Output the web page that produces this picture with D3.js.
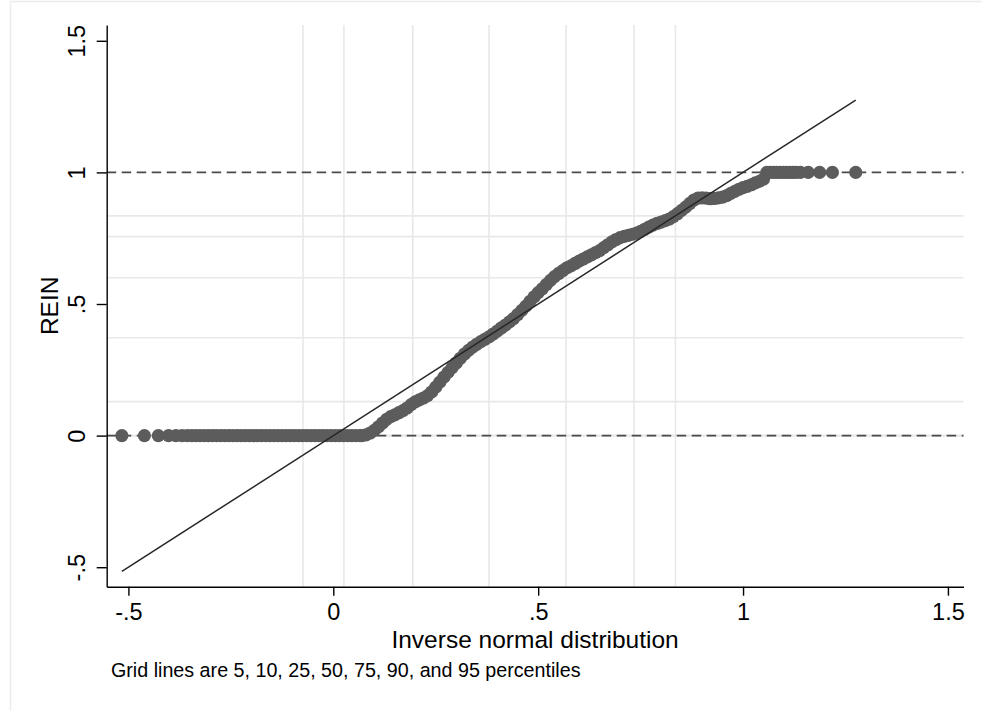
<!DOCTYPE html>
<html>
<head>
<meta charset="utf-8">
<script src="https://cdn.jsdelivr.net/npm/d3@7"></script>
<style>
  body { margin: 0; background: #fff; }
  text { font-family: "Liberation Sans", Arial, sans-serif; fill: #000; }
</style>
</head>
<body>
<div id="chart"></div>
<script>
// axis ticks
const xTicks = [-0.5, 0, 0.5, 1, 1.5];
const xTickLabels = ["-.5", "0", ".5", "1", "1.5"];
const yTicks = [-0.5, 0, 0.5, 1, 1.5];
const yTickLabels = ["-.5", "0", ".5", "1", "1.5"];

// grid lines at 5,10,25,50,75,90,95 percentiles
const gridNormal = [-0.074, 0.026, 0.194, 0.380, 0.568, 0.734, 0.835];
const gridRein = [0, 0, 0.129, 0.372, 0.600, 0.756, 0.835];

// yline(0 1)
const refLines = [0, 1];

// reference line y = x over the quantile range
const fitRange = [-0.516, 1.275];

// sorted REIN values against inverse normal quantiles
const zeroQ = [-0.516, -0.461, -0.427, -0.402, -0.384, -0.369, -0.356, -0.345, -0.335, -0.325, -0.315,
  -0.305, -0.295, -0.285, -0.275, -0.265, -0.255, -0.245, -0.235, -0.225, -0.215, -0.205, -0.195,
  -0.185, -0.175, -0.165, -0.155, -0.145, -0.135, -0.125, -0.115, -0.105, -0.095, -0.085, -0.075,
  -0.065, -0.055, -0.045, -0.035, -0.025, -0.015, -0.005, 0.005, 0.015, 0.025, 0.035, 0.045, 0.055, 0.065];
const midQ = [0.070, 0.080, 0.090, 0.100, 0.110, 0.120, 0.130, 0.140, 0.150, 0.160, 0.170, 0.180, 0.190,
  0.200, 0.210, 0.220, 0.230, 0.240, 0.250, 0.260, 0.270, 0.280, 0.290, 0.300, 0.310, 0.320, 0.330,
  0.340, 0.350, 0.360, 0.370, 0.380, 0.390, 0.400, 0.410, 0.420, 0.430, 0.440, 0.450, 0.460, 0.470,
  0.480, 0.490, 0.500, 0.510, 0.520, 0.530, 0.540, 0.550, 0.560, 0.570, 0.580, 0.590, 0.600, 0.610,
  0.620, 0.630, 0.640, 0.650, 0.660, 0.670, 0.680, 0.690, 0.700, 0.710, 0.720, 0.730, 0.740, 0.750,
  0.760, 0.770, 0.780, 0.790, 0.800, 0.810, 0.820, 0.830, 0.840, 0.850, 0.860, 0.870, 0.880, 0.890,
  0.900, 0.910, 0.920, 0.930, 0.940, 0.950, 0.960, 0.970, 0.980, 0.990, 1.000, 1.010, 1.020, 1.030,
  1.040, 1.050];
const midRein = [0.000, 0.003, 0.010, 0.020, 0.033, 0.048, 0.062, 0.072, 0.079, 0.087, 0.095, 0.105, 0.118,
  0.128, 0.136, 0.143, 0.152, 0.166, 0.184, 0.203, 0.222, 0.240, 0.258, 0.276, 0.294, 0.310, 0.324,
  0.336, 0.347, 0.357, 0.366, 0.375, 0.386, 0.397, 0.409, 0.420, 0.432, 0.445, 0.460, 0.476, 0.492,
  0.510, 0.527, 0.543, 0.558, 0.574, 0.590, 0.604, 0.616, 0.627, 0.637, 0.645, 0.654, 0.663, 0.671,
  0.679, 0.687, 0.695, 0.703, 0.714, 0.725, 0.736, 0.745, 0.752, 0.757, 0.761, 0.765, 0.769, 0.776,
  0.784, 0.792, 0.800, 0.806, 0.811, 0.817, 0.823, 0.832, 0.843, 0.856, 0.868, 0.882, 0.895, 0.902,
  0.903, 0.902, 0.900, 0.901, 0.903, 0.906, 0.912, 0.920, 0.928, 0.936, 0.942, 0.947, 0.953, 0.960,
  0.966, 0.975];
const oneQ = [1.058, 1.066, 1.074, 1.082, 1.090, 1.098, 1.106, 1.114, 1.122, 1.130, 1.140, 1.159, 1.187, 1.218, 1.275];

const width = 982, height = 711;
const margin = { top: 25, right: 18.5, bottom: 124.3, left: 106.7 };

const points = zeroQ.map(q => ({ q: q, v: 0 }))
  .concat(midQ.map((q, i) => ({ q: q, v: midRein[i] })))
  .concat(oneQ.map(q => ({ q: q, v: 1 })));

const svg = d3.select("#chart").append("svg")
  .attr("width", width)
  .attr("height", height);

// graph region outline
svg.append("rect")
  .attr("x", 10.5).attr("y", 1.5)
  .attr("width", width).attr("height", height)
  .attr("fill", "#fff")
  .attr("stroke", "#ececec")
  .attr("stroke-width", 1.5);

const x = d3.scaleLinear()
  .domain([-0.553, 1.538])
  .range([margin.left, width - margin.right]);

const y = d3.scaleLinear()
  .domain([-0.574, 1.560])
  .range([height - margin.bottom, margin.top]);

const x0 = margin.left, x1 = width - margin.right;
const y0 = height - margin.bottom, y1 = margin.top;

// percentile grid
svg.append("g").selectAll("line")
  .data(gridNormal)
  .enter().append("line")
  .attr("x1", d => x(d)).attr("x2", d => x(d))
  .attr("y1", y1).attr("y2", y0)
  .attr("stroke", "#e8e8e8")
  .attr("stroke-width", 1.6);

svg.append("g").selectAll("line")
  .data(gridRein)
  .enter().append("line")
  .attr("x1", x0).attr("x2", x1)
  .attr("y1", d => y(d)).attr("y2", d => y(d))
  .attr("stroke", "#e8e8e8")
  .attr("stroke-width", 1.6);

// dashed reference lines
svg.append("g").selectAll("line")
  .data(refLines)
  .enter().append("line")
  .attr("x1", x0).attr("x2", x1)
  .attr("y1", d => y(d)).attr("y2", d => y(d))
  .attr("stroke", "#4a4a4a")
  .attr("stroke-width", 1.8)
  .attr("stroke-dasharray", "9.5,5.5");

// quantile points
svg.append("g").selectAll("circle")
  .data(points)
  .enter().append("circle")
  .attr("cx", d => x(d.q))
  .attr("cy", d => y(d.v))
  .attr("r", 6.6)
  .attr("fill", "#5c5c5c");

// fitted line
svg.append("line")
  .attr("x1", x(fitRange[0])).attr("y1", y(fitRange[0]))
  .attr("x2", x(fitRange[1])).attr("y2", y(fitRange[1]))
  .attr("stroke", "#262626")
  .attr("stroke-width", 1.5);

// axes
const xAxis = svg.append("g")
  .attr("transform", "translate(0," + y0 + ")")
  .call(d3.axisBottom(x).tickValues(xTicks)
    .tickFormat((d, i) => xTickLabels[i])
    .tickSize(9).tickPadding(8).tickSizeOuter(0));

const yAxis = svg.append("g")
  .attr("transform", "translate(" + x0 + ",0)")
  .call(d3.axisLeft(y).tickValues(yTicks)
    .tickFormat((d, i) => yTickLabels[i])
    .tickSize(10).tickSizeOuter(0));

[xAxis, yAxis].forEach(a => {
  a.select(".domain").attr("stroke", "#000").attr("stroke-width", 1.4);
  a.selectAll(".tick line").attr("stroke", "#000").attr("stroke-width", 1.4);
  a.selectAll(".tick text").style("font-size", "23.5px").attr("fill", "#000");
});

yAxis.selectAll(".tick text")
  .attr("x", null).attr("dy", null)
  .attr("text-anchor", "middle")
  .attr("transform", "translate(-21.7,0) rotate(-90)");

// titles
svg.append("text")
  .attr("x", (x0 + x1) / 2).attr("y", 648)
  .attr("text-anchor", "middle")
  .style("font-size", "24.5px")
  .text("Inverse normal distribution");

svg.append("text")
  .attr("transform", "translate(58," + ((y0 + y1) / 2) + ") rotate(-90)")
  .attr("text-anchor", "middle")
  .style("font-size", "24.5px")
  .text("REIN");

svg.append("text")
  .attr("x", 111).attr("y", 677)
  .style("font-size", "19.7px")
  .text("Grid lines are 5, 10, 25, 50, 75, 90, and 95 percentiles");
</script>
</body>
</html>
